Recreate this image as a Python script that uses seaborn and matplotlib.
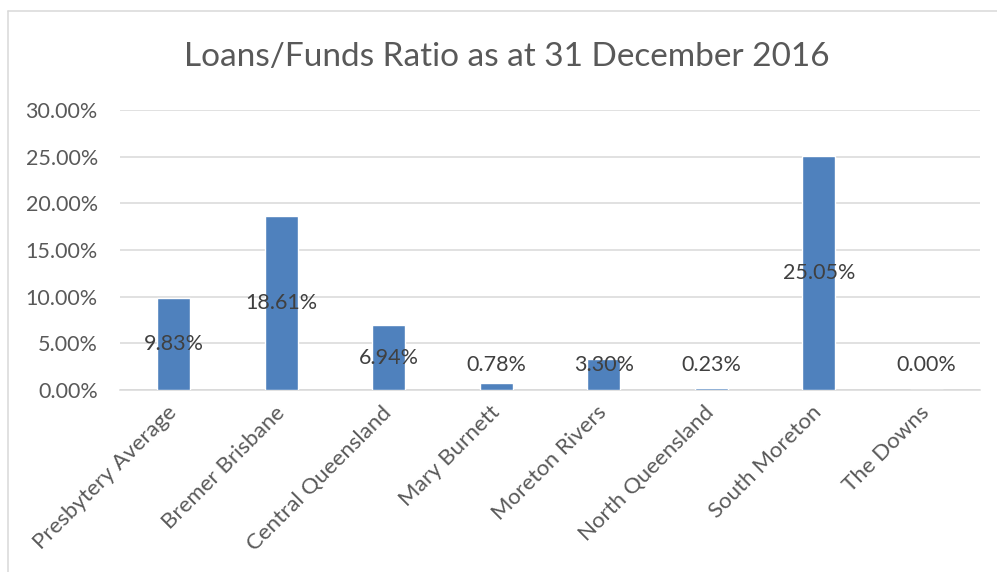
import matplotlib
matplotlib.use("Agg")
import matplotlib.pyplot as plt
from matplotlib.lines import Line2D
from matplotlib.ticker import FuncFormatter, MultipleLocator
import seaborn as sns
import pandas as pd

# Data (percent)
categories = ["Presbytery Average", "Bremer Brisbane", "Central Queensland", "Mary Burnett",
              "Moreton Rivers", "North Queensland", "South Moreton", "The Downs"]
ratios = [9.83, 18.61, 6.94, 0.78, 3.30, 0.23, 25.05, 0.00]

BAR_COLOR = "#4F81BD"
GRID_COLOR = "#D9D9D9"
TEXT_COLOR = "#595959"
LABEL_COLOR = "#404040"

sns.set_theme(style="white")
plt.rcParams["font.family"] = ["Lato", "DejaVu Sans"]

df = pd.DataFrame({"region": categories, "ratio": ratios})

fig = plt.figure(figsize=(9.97, 5.72), dpi=100)
ax = fig.add_axes([120 / 997, 1 - 390 / 572, 860 / 997, 280 / 572])

sns.barplot(data=df, x="region", y="ratio", color=BAR_COLOR, saturation=1,
            width=0.31, ax=ax, zorder=3)

ax.set_ylim(0, 30)
ax.set_xlim(-0.5, len(categories) - 0.5)
ax.yaxis.set_major_locator(MultipleLocator(5))
ax.yaxis.set_major_formatter(FuncFormatter(lambda v, _: f"{v:.2f}%"))
ax.grid(axis="y", color=GRID_COLOR, linewidth=1.1, zorder=0)
ax.set_axisbelow(True)
for side in ["left", "right", "top"]:
    ax.spines[side].set_visible(False)
ax.spines["bottom"].set_color(GRID_COLOR)
ax.spines["bottom"].set_linewidth(1.1)
ax.set_xlabel("")
ax.set_ylabel("")

ax.tick_params(axis="y", length=0, pad=16, labelsize=15.5, labelcolor=TEXT_COLOR)
ax.tick_params(axis="x", length=0, pad=14, labelsize=16, labelcolor=TEXT_COLOR)
for lbl in ax.get_xticklabels():
    lbl.set_rotation(45)
    lbl.set_ha("right")
    lbl.set_va("center")
    lbl.set_rotation_mode("anchor")

# data labels centred in the bar, kept above a floor for short bars
label_floor = 2.7
for i, v in enumerate(ratios):
    ax.text(i, max(v / 2, label_floor), f"{v:.2f}%", ha="center", va="center",
            fontsize=15.5, color=LABEL_COLOR, zorder=4)

fig.text(0.508, 1 - 57 / 572, "Loans/Funds Ratio as at 31 December 2016",
         ha="center", va="center", fontsize=24, color=TEXT_COLOR)

# chart frame (left and top edges visible)
fig.add_artist(Line2D([8 / 997, 8 / 997], [0, 1 - 11 / 572], color=GRID_COLOR, linewidth=1.1))
fig.add_artist(Line2D([8 / 997, 1], [1 - 11 / 572, 1 - 11 / 572], color=GRID_COLOR, linewidth=1.1))

fig.savefig("out.png", dpi=100, facecolor="white")
